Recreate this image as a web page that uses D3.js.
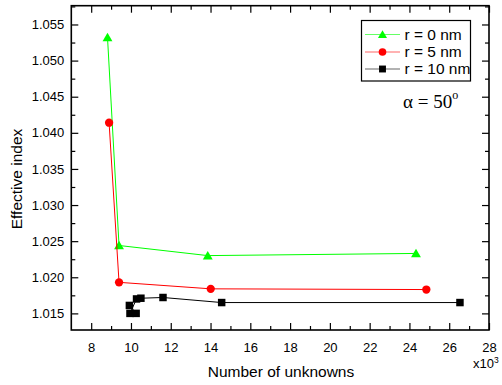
<!DOCTYPE html>
<html>
<head>
<meta charset="utf-8">
<script src="https://cdn.jsdelivr.net/npm/d3@7/dist/d3.min.js"></script>
<style>
  html, body { margin: 0; padding: 0; background: #fff; }
  svg { display: block; }
  text { font-family: Arial, "Liberation Sans", sans-serif; fill: #000; }
</style>
</head>
<body>
<svg id="chart" width="502" height="385"></svg>
<script>
// Effective index vs. number of unknowns (x10^3) for three radii
const seriesNames = ["r = 0 nm", "r = 5 nm", "r = 10 nm"];
const seriesColors = ["#00ff00", "#ff0000", "#000000"];
const seriesSymbols = ["triangle", "circle", "square"];

const r0Unknowns = [8.82, 9.40, 13.86, 24.33];
const r0Index    = [1.0532, 1.0244, 1.0230, 1.0233];

const r5Unknowns = [8.90, 9.40, 14.01, 24.85];
const r5Index    = [1.0414, 1.0193, 1.0184, 1.0183];

const r10Unknowns = [9.92, 10.26, 9.95, 10.28, 10.50, 11.61, 14.56, 26.54];
const r10Index    = [1.0161, 1.0150, 1.0150, 1.0170, 1.0171, 1.0172, 1.0165, 1.0165];

const xMajorTicks = [8, 10, 12, 14, 16, 18, 20, 22, 24, 26, 28];
const yMajorTicks = [1.015, 1.020, 1.025, 1.030, 1.035, 1.040, 1.045, 1.050, 1.055];

const series = [
  { name: seriesNames[0], color: seriesColors[0], symbol: seriesSymbols[0], x: r0Unknowns, y: r0Index },
  { name: seriesNames[1], color: seriesColors[1], symbol: seriesSymbols[1], x: r5Unknowns, y: r5Index },
  { name: seriesNames[2], color: seriesColors[2], symbol: seriesSymbols[2], x: r10Unknowns, y: r10Index }
];

const svg = d3.select("#chart");
const plotLeft = 71.3, plotRight = 489, plotTop = 5.7, plotBottom = 330;

const x = d3.scaleLinear().domain([7, 28]).range([plotLeft, plotRight]);
const y = d3.scaleLinear().domain([1.0127, 1.0576]).range([plotBottom, plotTop]);

const xMinor = d3.range(7, 28.01, 1).filter(v => v % 2 !== 0 && v > 7);
const yMinor = d3.range(1.0125, 1.0576, 0.005).filter(v => v > 1.0127 && v < 1.0576);

const majorLen = 7, minorLen = 4;

// Tick marks all point into the plotting area
function drawAxis(axis, transform, cls) {
  const g = svg.append("g").attr("class", cls).attr("transform", transform).call(axis);
  g.select(".domain").remove();
  g.selectAll(".tick line").attr("stroke", "#000").attr("stroke-width", 1.2);
  return g;
}

// bottom major with labels
const gxb = drawAxis(
  d3.axisBottom(x).tickValues(xMajorTicks).tickSize(-majorLen).tickPadding(majorLen + 6).tickFormat(d3.format("d")),
  `translate(0,${plotBottom})`, "x-bottom");
gxb.selectAll(".tick text").style("font-size", "13px");
drawAxis(d3.axisBottom(x).tickValues(xMinor).tickSize(-minorLen).tickFormat(""), `translate(0,${plotBottom})`, "x-bottom-minor");
// top
drawAxis(d3.axisTop(x).tickValues(xMajorTicks).tickSize(-majorLen).tickFormat(""), `translate(0,${plotTop})`, "x-top");
drawAxis(d3.axisTop(x).tickValues(xMinor).tickSize(-minorLen).tickFormat(""), `translate(0,${plotTop})`, "x-top-minor");

// left major with labels
const gyl = drawAxis(
  d3.axisLeft(y).tickValues(yMajorTicks).tickSize(-majorLen).tickPadding(7).tickFormat(d3.format(".3f")),
  `translate(${plotLeft},0)`, "y-left");
gyl.selectAll(".tick text").style("font-size", "13px");
drawAxis(d3.axisLeft(y).tickValues(yMinor).tickSize(-minorLen).tickFormat(""), `translate(${plotLeft},0)`, "y-left-minor");
// right
drawAxis(d3.axisRight(y).tickValues(yMajorTicks).tickSize(-majorLen).tickFormat(""), `translate(${plotRight},0)`, "y-right");
drawAxis(d3.axisRight(y).tickValues(yMinor).tickSize(-minorLen).tickFormat(""), `translate(${plotRight},0)`, "y-right-minor");

// frame
svg.append("rect")
  .attr("x", plotLeft).attr("y", plotTop)
  .attr("width", plotRight - plotLeft).attr("height", plotBottom - plotTop)
  .attr("fill", "none").attr("stroke", "#000").attr("stroke-width", 1.6);

// axis titles
svg.append("text")
  .attr("x", 281).attr("y", 376.5)
  .attr("text-anchor", "middle")
  .style("font-size", "15.5px")
  .text("Number of unknowns");

svg.append("text")
  .attr("transform", "translate(21.5,179) rotate(-90)")
  .attr("text-anchor", "middle")
  .style("font-size", "15.5px")
  .text("Effective index");

// scale multiplier for the x axis
const mult = svg.append("text").attr("x", 473).attr("y", 368).style("font-size", "13px");
mult.append("tspan").text("x10");
mult.append("tspan").attr("dy", -5.5).style("font-size", "8.5px").text("3");

// symbol generator
const symbolFor = {
  triangle: d3.symbolTriangle,
  circle: d3.symbolCircle,
  square: d3.symbolSquare
};
const symbolSize = { triangle: 42, circle: 54, square: 56 };

function markerPath(kind, scale = 1) {
  return d3.symbol().type(symbolFor[kind]).size(symbolSize[kind] * scale)();
}

const line = d3.line().x(d => x(d[0])).y(d => y(d[1]));

const plot = svg.append("g");
series.forEach(s => {
  const pts = s.x.map((v, i) => [v, s.y[i]]);
  plot.append("path")
    .attr("d", line(pts))
    .attr("fill", "none")
    .attr("stroke", s.color)
    .attr("stroke-width", 1);
  plot.selectAll(null)
    .data(pts)
    .enter()
    .append("path")
    .attr("d", markerPath(s.symbol))
    .attr("transform", d => `translate(${x(d[0])},${y(d[1]) + (s.symbol === "triangle" ? 1 : 0)})`)
    .attr("fill", s.color);
});

// legend
const legend = svg.append("g");
legend.append("rect")
  .attr("x", 361.5).attr("y", 20.5)
  .attr("width", 109).attr("height", 60.5)
  .attr("fill", "#fff").attr("stroke", "#000").attr("stroke-width", 1.2);

const rowY = [34.5, 52, 69];
series.forEach((s, i) => {
  const ry = rowY[i];
  legend.append("line")
    .attr("x1", 365).attr("x2", 400)
    .attr("y1", ry).attr("y2", ry)
    .attr("stroke", s.color).attr("stroke-width", 1).attr("opacity", 0.6);
  legend.append("path")
    .attr("d", markerPath(s.symbol, 0.85))
    .attr("transform", `translate(382.5,${ry + (s.symbol === "triangle" ? 1 : 0)})`)
    .attr("fill", s.color);
  legend.append("text")
    .attr("x", 404.5).attr("y", ry + 5.3)
    .style("font-size", "15.5px")
    .text(s.name);
});

// incidence angle annotation
const ann = svg.append("text")
  .attr("x", 403).attr("y", 108)
  .style("font-family", "'Liberation Serif', 'Times New Roman', serif")
  .style("font-size", "19px");
ann.append("tspan").text("\u03b1 = 50");
ann.append("tspan").attr("dy", -9).style("font-size", "12px").text("o");
</script>
</body>
</html>
